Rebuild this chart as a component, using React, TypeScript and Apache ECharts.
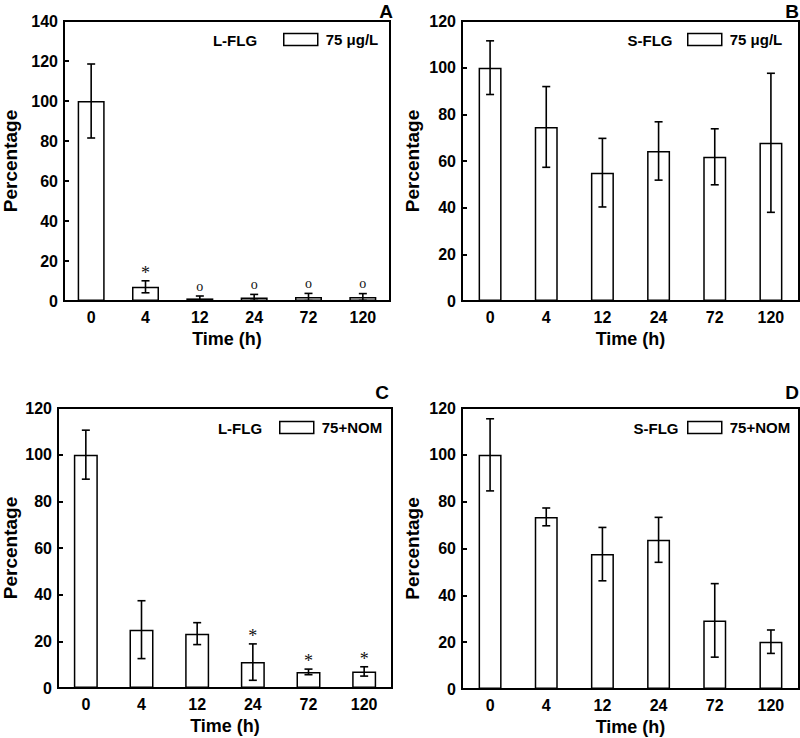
import React, { useEffect, useRef } from "react";
import * as echarts from "echarts";

const categories = ["0", "4", "12", "24", "72", "120"];

const aMeans = [100, 7.1, 1.3, 1.8, 2.0, 2.0];
const aErrs = [18.5, 3.0, 1.2, 1.5, 1.8, 1.7];
const aMarks = ["", "*", "o", "o", "o", "o"];

const bMeans = [100, 74.6, 55, 64.3, 61.8, 67.8];
const bErrs = [11.5, 17.3, 14.7, 12.5, 12, 29.8];
const bMarks = ["", "", "", "", "", ""];

const cMeans = [100, 25, 23.3, 11.1, 6.9, 7.1];
const cErrs = [10.5, 12.4, 4.7, 7.8, 1.2, 2.0];
const cMarks = ["", "", "", "*", "*", "*"];

const dMeans = [100, 73.5, 57.6, 63.7, 29.3, 20.2];
const dErrs = [15.4, 3.8, 11.4, 9.6, 15.7, 5.0];
const dMarks = ["", "", "", "", "", ""];

const panelLetters = ["A", "B", "C", "D"];
const groupLabels = ["L-FLG", "S-FLG", "L-FLG", "S-FLG"];
const seriesNames = ["75 μg/L", "75 μg/L", "75+NOM", "75+NOM"];
const yMaxes = [140, 120, 120, 120];

const FONT = '"Liberation Sans", Arial, sans-serif';

export default function App() {
  const ref = useRef<HTMLDivElement>(null);

  useEffect(() => {
    if (!ref.current) return;
    const chart = echarts.init(ref.current, null, { renderer: "svg" });

    const means = [aMeans, bMeans, cMeans, dMeans];
    const errs = [aErrs, bErrs, cErrs, dErrs];
    const marks = [aMarks, bMarks, cMarks, dMarks];

    const grids = [
      { left: 58, top: 21, width: 332, height: 280 },
      { left: 462, top: 21, width: 337, height: 280 },
      { left: 52, top: 408, width: 340, height: 280 },
      { left: 462, top: 408, width: 337, height: 281 },
    ];
    const barWidths = [27, 23, 24, 23];
    const nameGapsY = [44, 40, 38, 40];
    const legendPos = [
      { left: 283, top: 32 },
      { left: 687, top: 32 },
      { left: 279, top: 420 },
      { left: 687, top: 420 },
    ];
    const groupLabelPos = [
      { x: 235, y: 40 },
      { x: 650, y: 40 },
      { x: 240, y: 428 },
      { x: 656, y: 428 },
    ];
    const letterPos = [
      { x: 393, y: 11 },
      { x: 799, y: 11 },
      { x: 389, y: 392 },
      { x: 799, y: 392 },
    ];

    const axisLabelStyle = {
      color: "#000",
      fontFamily: FONT,
      fontWeight: "bold" as const,
      fontSize: 16,
    };

    const xAxis = grids.map((_, i) => ({
      type: "category",
      gridIndex: i,
      data: categories,
      boundaryGap: true,
      axisLine: { lineStyle: { color: "#000", width: 2 } },
      axisTick: {
        inside: true,
        alignWithLabel: true,
        length: 6,
        lineStyle: { color: "#000", width: 2 },
      },
      axisLabel: { ...axisLabelStyle, margin: 8 },
      name: "Time (h)",
      nameLocation: "middle",
      nameGap: 29,
      nameTextStyle: {
        color: "#000",
        fontFamily: FONT,
        fontWeight: "bold",
        fontSize: 18,
      },
    }));

    const yAxis = grids.map((_, i) => ({
      type: "value",
      gridIndex: i,
      min: 0,
      max: yMaxes[i],
      interval: 20,
      splitLine: { show: false },
      axisLine: { show: true, lineStyle: { color: "#000", width: 2 } },
      axisTick: {
        show: true,
        inside: true,
        length: 5,
        lineStyle: { color: "#000", width: 2 },
      },
      axisLabel: { ...axisLabelStyle, margin: 6 },
      name: "Percentage",
      nameLocation: "middle",
      nameGap: nameGapsY[i],
      nameTextStyle: {
        color: "#000",
        fontFamily: FONT,
        fontWeight: "bold",
        fontSize: 19,
      },
    }));

    const series: any[] = [];
    grids.forEach((_, i) => {
      series.push({
        type: "bar",
        name: seriesNames[i],
        xAxisIndex: i,
        yAxisIndex: i,
        data: means[i],
        barWidth: barWidths[i],
        itemStyle: {
          color: "rgba(255,255,255,0)",
          borderColor: "#000",
          borderWidth: 1.5,
        },
        emphasis: { disabled: true },
      });
      const errData = means[i].map((m, k) => [k, m, errs[i][k]]);
      series.push({
        type: "custom",
        name: "err" + i,
        xAxisIndex: i,
        yAxisIndex: i,
        data: errData,
        encode: { x: 0, y: 1 },
        z: 5,
        renderItem: (params: any, api: any) => {
          const x = api.value(0);
          const v = api.value(1);
          const e = api.value(2);
          const top = api.coord([x, v + e]);
          const bot = api.coord([x, v - e]);
          const cx = top[0];
          const st = { stroke: "#000", lineWidth: 1.6 };
          return {
            type: "group",
            children: [
              { type: "line", shape: { x1: cx, y1: top[1], x2: cx, y2: bot[1] }, style: st },
              { type: "line", shape: { x1: cx - 4, y1: top[1], x2: cx + 4, y2: top[1] }, style: st },
              { type: "line", shape: { x1: cx - 4, y1: bot[1], x2: cx + 4, y2: bot[1] }, style: st },
            ],
          };
        },
      });
      const markList = marks[i];
      series.push({
        type: "custom",
        name: "mark" + i,
        xAxisIndex: i,
        yAxisIndex: i,
        data: means[i].map((m, k) => [k, m + errs[i][k]]),
        encode: { x: 0, y: 1 },
        z: 6,
        renderItem: (params: any, api: any) => {
          const label = markList[params.dataIndex];
          if (!label) return null;
          const pt = api.coord([api.value(0), api.value(1)]);
          const isStar = label === "*";
          return {
            type: "text",
            x: pt[0],
            y: pt[1] - (isStar ? 8 : 10),
            style: {
              text: label,
              align: "center",
              verticalAlign: "middle",
              textAlign: "center",
              textVerticalAlign: "middle",
              font: isStar ? '18px "Liberation Serif"' : '14px "Liberation Serif"',
              fill: "#111",
            },
          };
        },
      });
    });

    const legend = grids.map((_, i) => ({
      show: true,
      left: legendPos[i].left,
      top: legendPos[i].top,
      padding: 0,
      data: [seriesNames[i]],
      icon: "rect",
      itemWidth: 34,
      itemHeight: 12,
      selectedMode: false,
      itemStyle: { color: "#fff", borderColor: "#000", borderWidth: 1.5 },
      textStyle: {
        color: "#000",
        fontFamily: FONT,
        fontWeight: "bold",
        fontSize: 15,
        padding: [0, 0, 0, 3],
      },
    }));

    const graphic: any[] = [];
    grids.forEach((_, i) => {
      graphic.push({
        type: "text",
        x: groupLabelPos[i].x,
        y: groupLabelPos[i].y,
        style: {
          text: groupLabels[i],
          font: `bold 15px ${FONT}`,
          fill: "#000",
          textAlign: "center",
          textVerticalAlign: "middle",
        },
      });
      graphic.push({
        type: "text",
        x: letterPos[i].x,
        y: letterPos[i].y,
        style: {
          text: panelLetters[i],
          font: `bold 19px ${FONT}`,
          fill: "#000",
          textAlign: "right",
          textVerticalAlign: "middle",
        },
      });
    });

    chart.setOption({
      animation: false,
      backgroundColor: "#fff",
      grid: grids.map((g) => ({
        ...g,
        show: true,
        borderColor: "#000",
        borderWidth: 2,
        backgroundColor: "transparent",
      })),
      xAxis,
      yAxis,
      legend,
      series,
      graphic,
    });

    return () => chart.dispose();
  }, []);

  return (
    <div
      ref={ref}
      style={{ position: "fixed", left: 0, top: 0, width: 800, height: 738 }}
    />
  );
}
